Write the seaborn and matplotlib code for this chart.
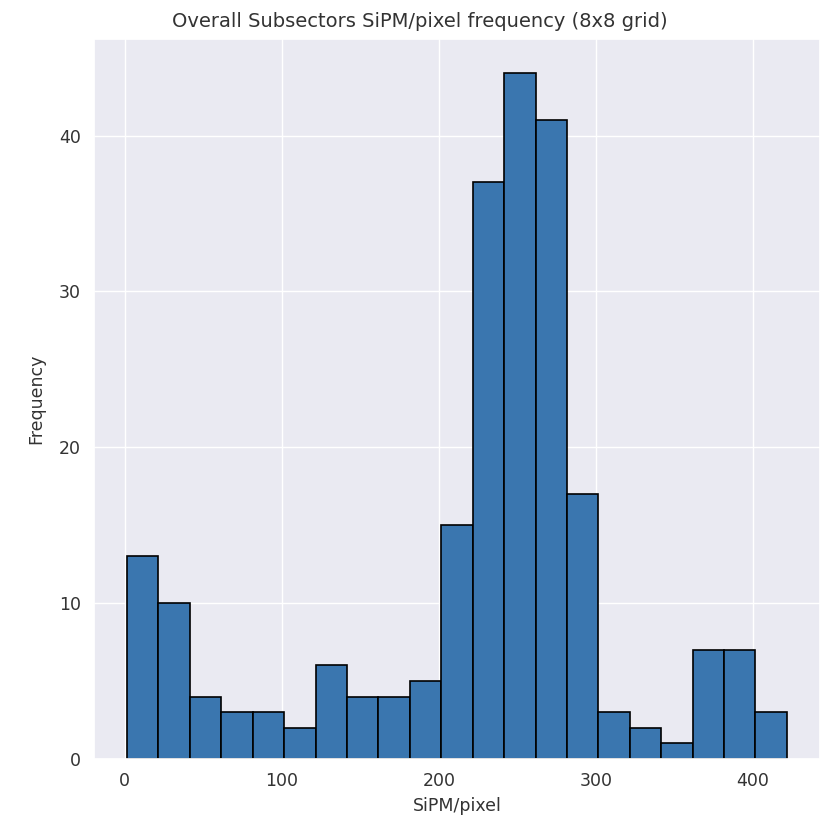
import numpy as np
import pandas as pd
import seaborn as sns
import matplotlib
matplotlib.use("Agg")
import matplotlib.pyplot as plt

# Histogram bins (SiPM/pixel) and counts
bin_start = 1.5
bin_width = 20.0
counts = [13, 10, 4, 3, 3, 2, 6, 4, 4, 5, 15, 37, 44, 41, 17, 3, 2, 1, 7, 7, 3]

n = len(counts)
centers = [bin_start + bin_width * (i + 0.5) for i in range(n)]
df = pd.DataFrame({"SiPM/pixel": centers, "count": counts})

sns.set_theme(style="darkgrid")
plt.rcParams['font.family'] = ['DejaVu Sans']
text_color = "#333333"

fig = plt.figure(figsize=(8.4, 8.19), dpi=100)
ax = fig.add_axes([0.112, 0.0733, 0.864, 0.879])
sns.histplot(data=df, x="SiPM/pixel", weights="count",
             binwidth=bin_width, binrange=(bin_start, bin_start + bin_width * n),
             color="#3a76af", alpha=1.0, edgecolor="black", linewidth=1.2, ax=ax)
ax.set_title("Overall Subsectors SiPM/pixel frequency (8x8 grid)", fontsize=14,
             x=0.449, pad=9, color=text_color)
ax.set_xlabel("SiPM/pixel", fontsize=12.5, color=text_color, labelpad=5)
ax.set_ylabel("Frequency", fontsize=12.5, color=text_color, labelpad=10)
ax.tick_params(labelsize=12.5, labelcolor=text_color)
ax.set_xticks([0, 100, 200, 300, 400])
ax.set_yticks([0, 10, 20, 30, 40])
fig.savefig("out.png", dpi=100)
